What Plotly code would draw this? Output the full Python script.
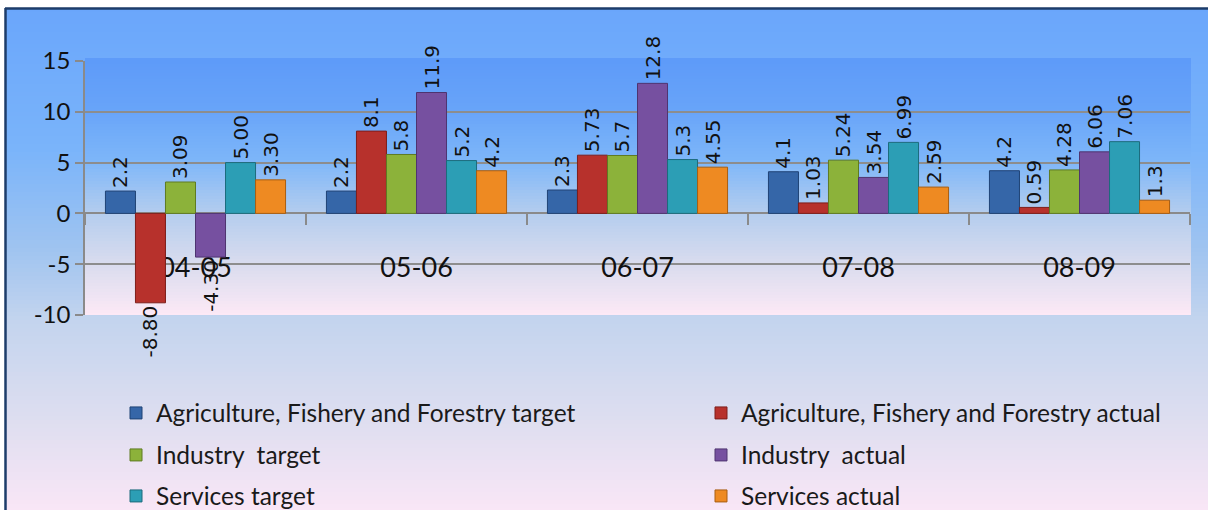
import plotly.graph_objects as go

# ---------------- data ----------------
categories = ["04-05", "05-06", "06-07", "07-08", "08-09"]

series_names = [
    "Agriculture, Fishery and Forestry target",
    "Agriculture, Fishery and Forestry actual",
    "Industry\u00a0 target",
    "Industry\u00a0 actual",
    "Services target",
    "Services actual",
]

ag_target = [2.2, 2.2, 2.3, 4.1, 4.2]
ag_actual = [-8.80, 8.1, 5.73, 1.03, 0.59]
ind_target = [3.09, 5.8, 5.7, 5.24, 4.28]
ind_actual = [-4.30, 11.9, 12.8, 3.54, 6.06]
serv_target = [5.00, 5.2, 5.3, 6.99, 7.06]
serv_actual = [3.30, 4.2, 4.55, 2.59, 1.3]

ag_target_lbl = ["2.2", "2.2", "2.3", "4.1", "4.2"]
ag_actual_lbl = ["-8.80", "8.1", "5.73", "1.03", "0.59"]
ind_target_lbl = ["3.09", "5.8", "5.7", "5.24", "4.28"]
ind_actual_lbl = ["-4.30", "11.9", "12.8", "3.54", "6.06"]
serv_target_lbl = ["5.00", "5.2", "5.3", "6.99", "7.06"]
serv_actual_lbl = ["3.30", "4.2", "4.55", "2.59", "1.3"]

y_ticks = [-10, -5, 0, 5, 10, 15]

# ---------------- styling ----------------
W, H = 1208, 510
ML, MR, MT, MB = 85, 18, 61, 195
PW, PH = W - ML - MR, H - MT - MB

def px2x(px):
    return (px - ML) / PW

def py2y(py):
    return (H - MB - py) / PH

fills = ["#3566a8", "#b7312c", "#8cb23a", "#7650a0", "#2c9eb5", "#ee8a22"]
edges = ["#1f4275", "#7e1e1b", "#5e7b22", "#4e3470", "#1c6b7c", "#a85e12"]

values = [ag_target, ag_actual, ind_target, ind_actual, serv_target, serv_actual]
labels = [ag_target_lbl, ag_actual_lbl, ind_target_lbl, ind_actual_lbl,
          serv_target_lbl, serv_actual_lbl]

legend_pos = [
    (116, 413), (701, 413),
    (116, 455), (701, 455),
    (116, 496), (701, 496),
]

fig = go.Figure()
legend_keys = ["legend", "legend2", "legend3", "legend4", "legend5", "legend6"]
for i in range(6):
    fig.add_trace(go.Bar(
        x=categories, y=values[i], name=series_names[i],
        marker=dict(color=fills[i], line=dict(color=edges[i], width=1)),
        text=labels[i], textposition="outside", textangle=-90,
        textfont=dict(family="DejaVu Sans", size=20, color="#111111"),
        cliponaxis=False, constraintext="none",
        legend=legend_keys[i],
    ))

# gradient backgrounds
def lerp_stops(stops, py):
    for (y0, c0), (y1, c1) in zip(stops[:-1], stops[1:]):
        if y0 <= py <= y1:
            t = (py - y0) / (y1 - y0) if y1 > y0 else 0
            return tuple(int(round(a + (b - a) * t)) for a, b in zip(c0, c1))
    return stops[-1][1] if py > stops[-1][0] else stops[0][1]

outer_stops = [(8, (106, 166, 251)), (150, (122, 180, 250)), (250, (160, 196, 240)),
               (320, (195, 212, 238)), (420, (222, 222, 240)), (510, (249, 230, 246))]
inner_stops = [(61, (94, 155, 249)), (110, (104, 164, 249)), (160, (125, 182, 249)),
               (213, (180, 205, 238)), (265, (218, 220, 238)), (315, (252, 233, 246))]

shapes = []
step = 4
py = 8
while py < H:
    c = lerp_stops(outer_stops, py + step / 2)
    shapes.append(dict(type="rect", xref="paper", yref="paper", layer="below",
                       x0=px2x(5), x1=px2x(W + 2), y0=py2y(py), y1=py2y(min(py + step + 1.5, H + 2)),
                       line=dict(width=0), fillcolor="rgb(%d,%d,%d)" % c))
    py += step
step = 3
py = MT - 3
while py < H - MB:
    c = lerp_stops(inner_stops, py + step / 2)
    shapes.append(dict(type="rect", xref="paper", yref="paper", layer="below",
                       x0=px2x(ML), x1=px2x(W - MR + 1), y0=py2y(py), y1=py2y(min(py + step + 1.5, H - MB)),
                       line=dict(width=0), fillcolor="rgb(%d,%d,%d)" % c))
    py += step
# dark frame
shapes.append(dict(type="line", xref="paper", yref="paper", layer="above",
                   x0=px2x(5), x1=px2x(W + 2), y0=py2y(8.5), y1=py2y(8.5),
                   line=dict(color="#1d3c6a", width=2.5)))
shapes.append(dict(type="line", xref="paper", yref="paper", layer="above",
                   x0=px2x(5.5), x1=px2x(5.5), y0=py2y(8), y1=py2y(H + 2),
                   line=dict(color="#1d3c6a", width=2.5)))

layout_legends = {}
for i, key in enumerate(legend_keys):
    lx, ly = legend_pos[i]
    layout_legends[key] = dict(
        x=px2x(lx), y=py2y(ly), xanchor="left", yanchor="middle",
        bgcolor="rgba(0,0,0,0)", borderwidth=0,
        font=dict(family="Lato", size=24.5, color="#1a1a1a"),
    )

fig.update_layout(
    width=W, height=H,
    margin=dict(l=ML, r=MR, t=MT, b=MB, pad=0, autoexpand=False),
    paper_bgcolor="white", plot_bgcolor="rgba(0,0,0,0)",
    barmode="group", bargap=0.185, bargroupgap=0,
    shapes=shapes,
    showlegend=True,
    **layout_legends,
)

fig.update_xaxes(
    type="category", anchor="free", position=0.4,
    showline=True, linecolor="#8a8a8a", linewidth=1.5,
    ticks="outside", ticklen=11, tickcolor="#8a8a8a", tickwidth=1.5,
    tickson="boundaries", showgrid=False, layer="below traces",
    tickfont=dict(family="Lato", size=27, color="#111111"),
    ticklabelstandoff=30,
)
fig.update_yaxes(
    range=[-10, 15], tickvals=y_ticks, ticktext=[str(v) for v in y_ticks],
    showline=True, linecolor="#8a8a8a", linewidth=1.5,
    ticks="outside", ticklen=8, tickcolor="#8a8a8a", tickwidth=1.5,
    showgrid=True, gridcolor="#8d8d8d", gridwidth=1.5,
    zeroline=True, zerolinecolor="#8d8d8d", zerolinewidth=1.5,
    tickfont=dict(family="Lato", size=24, color="#111111"),
    layer="below traces",
)

fig.write_html("out.html", config={"displayModeBar": False},
               post_script="document.body.style.margin='0';")
